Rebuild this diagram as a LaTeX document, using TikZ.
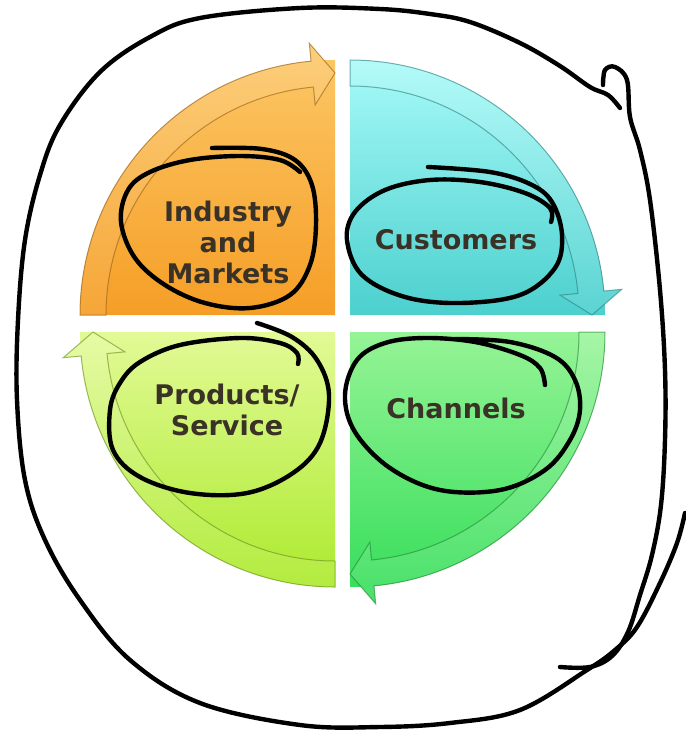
\documentclass[tikz,border=0pt]{standalone}
\usepackage{fontspec}
\setsansfont{DejaVu Sans}
\usetikzlibrary{shapes,arrows}

\definecolor{orngT}{RGB}{252,198,100}
\definecolor{orngB}{RGB}{245,158,38}
\definecolor{tealT}{RGB}{166,250,248}
\definecolor{tealB}{RGB}{76,208,206}
\definecolor{grenT}{RGB}{150,244,150}
\definecolor{grenB}{RGB}{56,222,92}
\definecolor{limeT}{RGB}{226,250,150}
\definecolor{limeB}{RGB}{172,234,46}
\definecolor{labeltext}{RGB}{58,50,38}

\tikzset{
  seglabel/.style={font=\sffamily\bfseries\fontsize{13.5}{15.5}\selectfont, text=labeltext, align=center, inner sep=0pt},
  sketch/.style={line width=2.2pt, line cap=round, line join=round},
}

\begin{document}
\begin{tikzpicture}[x=0.5pt,y=-0.5pt]
\useasboundingbox (0,0) rectangle (686,735);
\fill[white] (0,0) rectangle (686,735);

% four segments, arrows turn clockwise
\foreach \cx/\cy/\a/\col in {335/315/-180/orng, 350/315/-90/teal, 350/332/0/gren, 335/332/90/lime} {
  \begin{scope}[shift={(\cx,\cy)}]
    \shade[top color=\col T, bottom color=\col B] (0,0) -- (\a:255) arc[start angle=\a, end angle=\a+90, radius=255] -- cycle;
    \shadedraw[top color=\col T!85!white, bottom color=\col B!92!white, draw=\col B!60!black, draw opacity=0.6, line width=0.5pt]
      (\a:255) arc[start angle=\a, end angle=\a+84.6, radius=255]
      -- (\a+84.6:273) -- (\a+90:242) -- (\a+84.6:211) -- (\a+84.6:229)
      arc[start angle=\a+84.6, end angle=\a, radius=229] -- cycle;
  \end{scope}
}

\node[seglabel] (ind) at (228,242) {Industry\\and\\Markets};
\node[seglabel] (cust) at (456,240) {Customers};
\node[seglabel] (prod) at (227,410) {Products/\\Service};
\node[seglabel] (chan) at (456,408) {Channels};

% pen marks
\draw[sketch] plot[smooth, tension=0.6] coordinates {(212,148) (262,149) (295,160) (312,185) (316,225) (310,265) (290,295) (250,308) (205,303) (165,285) (135,258) (121,222) (128,190) (150,172) (190,160) (240,156) (280,160) (300,172)};
\draw[sketch] plot[smooth, tension=0.6] coordinates {(428,167) (490,172) (530,184) (552,202) (562,235) (555,268) (520,295) (460,303) (405,297) (362,275) (347,240) (355,212) (385,190) (430,180) (480,182) (525,193) (550,208) (551,222)};
\draw[sketch] plot[smooth, tension=0.6] coordinates {(257,323) (292,337) (317,360) (329,395) (320,443) (293,473) (247,493) (190,493) (140,477) (113,450) (110,410) (120,383) (140,362) (180,345) (240,338) (280,343) (297,353) (298,364)};
\draw[sketch] plot[smooth, tension=0.6] coordinates {(455,339) (510,342) (555,357) (575,380) (580,410) (570,440) (545,470) (500,490) (440,490) (390,468) (355,432) (345,395) (357,360) (385,343) (425,338) (475,342) (520,355) (540,368) (545,385)};

\draw[sketch] plot[smooth, tension=0.6] coordinates {(685,513) (677,543) (660,583) (637,627) (615,650) (587,670) (520,710) (450,723) (380,727) (300,725) (200,703) (130,660) (80,600) (45,540) (25,480) (17,400) (18,320) (25,240) (40,175) (60,125) (100,72) (150,37) (200,18) (300,8) (380,9) (430,14) (470,22) (520,43) (560,66) (590,87) (608,95) (620,108)};
\draw[sketch] plot[smooth, tension=0.6] coordinates {(560,667) (590,667) (612,656) (628,632) (640,595) (652,555) (661,505) (665,440) (665,370) (660,290) (650,200) (640,150) (630,117) (627,80) (615,67) (605,70) (603,85)};
\end{tikzpicture}
\end{document}
